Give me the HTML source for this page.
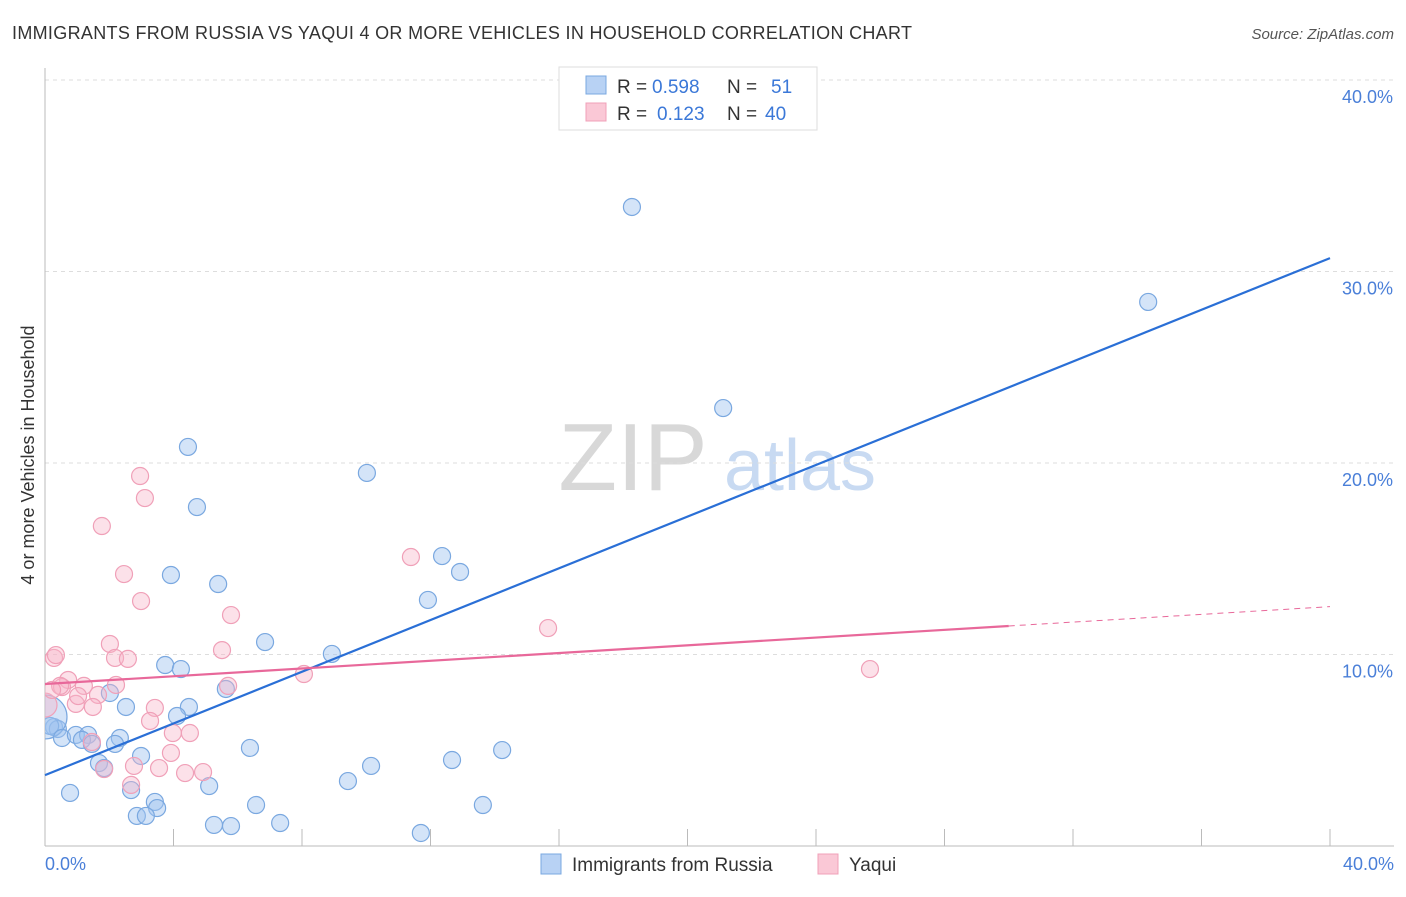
<!DOCTYPE html>
<html><head><meta charset="utf-8"><style>
body{margin:0;background:#fff;font-family:"Liberation Sans",sans-serif;}
svg text{font-family:"Liberation Sans",sans-serif;}
</style></head><body>
<svg id="chart" width="1406" height="892" xmlns="http://www.w3.org/2000/svg">
<defs><clipPath id="plotclip"><rect x="45" y="60" width="1360" height="786"/></clipPath></defs>
<text x="12" y="39" font-size="18" fill="#333" textLength="900">IMMIGRANTS FROM RUSSIA VS YAQUI 4 OR MORE VEHICLES IN HOUSEHOLD CORRELATION CHART</text>
<text x="1394" y="39" font-size="15" fill="#555" font-style="italic" text-anchor="end">Source: ZipAtlas.com</text>
<g>
<text x="633" y="490" font-size="96" fill="#d8d8d8" font-family="Liberation Serif" text-anchor="middle">ZIP</text>
<text x="800" y="490" font-size="72" fill="#c8daf2" text-anchor="middle">atlas</text>
</g>
<g id="grid"></g>
<g id="axes"></g>
<g id="marks" clip-path="url(#plotclip)"></g>
<g id="lines"></g>
<text transform="translate(34,455) rotate(-90)" font-size="18" fill="#333" text-anchor="middle">4 or more Vehicles in Household</text>
<text x="45" y="870" font-size="18" fill="#4a7fd8">0.0%</text>
<text x="1394" y="870" font-size="18" fill="#4a7fd8" text-anchor="end">40.0%</text>
<g>
<rect x="559" y="67" width="258" height="63" fill="#fff" stroke="#ddd"/>
<rect x="586" y="76" width="20" height="18" fill="#b8d2f4" stroke="#7aa8e0"/>
<rect x="586" y="103" width="20" height="18" fill="#fac8d6" stroke="#f0a0b8"/>
<text x="617" y="93" font-size="19" fill="#333">R =</text>
<text x="652" y="93" font-size="19" fill="#3b78d8">0.598</text>
<text x="727" y="93" font-size="19" fill="#333">N =</text>
<text x="771" y="93" font-size="19" fill="#3b78d8">51</text>
<text x="617" y="120" font-size="19" fill="#333">R =</text>
<text x="657" y="120" font-size="19" fill="#3b78d8">0.123</text>
<text x="727" y="120" font-size="19" fill="#333">N =</text>
<text x="765" y="120" font-size="19" fill="#3b78d8">40</text>
</g>
<g>
<rect x="541" y="854" width="20" height="20" fill="#b8d2f4" stroke="#7aa8e0"/>
<text x="572" y="871" font-size="19" fill="#333">Immigrants from Russia</text>
<rect x="818" y="854" width="20" height="20" fill="#fac8d6" stroke="#f0a0b8"/>
<text x="849" y="871" font-size="19" fill="#333">Yaqui</text>
</g>
</svg>
<script>
const yTicks=[10,20,30,40];
const yTickLabels=["10.0%","20.0%","30.0%","40.0%"];
const xTicks=[0,4,8,12,16,20,24,28,32,36,40];
const russiaX=[18.27,34.34,21.11,4.45,10.02,4.73,12.36,12.92,3.92,5.39,11.92,6.85,8.93,3.74,4.23,5.63,2.02,4.48,2.52,4.11,0.28,0.40,0.16,0.0,0.53,0.96,1.34,1.15,2.33,2.18,1.46,2.99,6.38,14.23,12.67,10.15,1.68,1.84,9.43,5.11,0.78,2.68,3.42,3.49,6.57,13.63,2.86,3.14,5.26,5.79,7.32,11.70];
const russiaY=[33.37,28.41,22.87,20.84,19.48,17.70,15.14,14.31,14.15,13.68,12.85,10.65,10.03,9.45,9.24,8.20,7.99,7.26,7.26,6.79,6.21,6.11,6.27,6.74,5.64,5.80,5.80,5.54,5.64,5.33,5.33,4.70,5.12,5.01,4.49,4.18,4.33,4.07,3.39,3.13,2.77,2.92,2.30,1.98,2.14,2.14,1.57,1.57,1.10,1.04,1.20,0.68];
const yaquiX=[2.96,3.11,1.77,2.46,2.99,5.79,11.39,15.66,2.02,5.51,0.28,0.34,2.18,2.58,25.68,8.06,0.72,0.53,1.21,1.65,2.21,5.70,0.96,1.49,3.42,3.27,3.98,4.51,3.92,2.77,3.55,4.36,4.92,1.84,2.68,0.0,0.47,0.22,1.03,1.46];
const yaquiY=[19.32,18.17,16.71,14.20,12.79,12.06,15.09,11.38,10.55,10.23,9.82,9.97,9.82,9.77,9.24,8.98,8.67,8.30,8.36,7.89,8.41,8.36,7.42,7.26,7.21,6.53,5.90,5.90,4.86,4.18,4.07,3.81,3.86,4.02,3.19,7.36,8.36,8.15,7.83,5.43];
const russiaTrend=[3.7,30.7];
const yaquiTrend=[8.46,12.5];
const yaquiSolidEnd=30;

const NS="http://www.w3.org/2000/svg";
const X0=45,X1=1330,Y0=846,PX_PER=19.15;
function sx(v){return X0+(v/40)*(X1-X0);}
function sy(v){return Y0-v*PX_PER;}
function mk(tag,attrs,parent){const e=document.createElementNS(NS,tag);for(const k in attrs)e.setAttribute(k,attrs[k]);parent.appendChild(e);return e;}
const grid=document.getElementById('grid'),axes=document.getElementById('axes'),marks=document.getElementById('marks'),lines=document.getElementById('lines');
yTicks.forEach((t,i)=>{
  const l=mk('line',{x1:X0,x2:1394,y1:sy(t),y2:sy(t),stroke:'#ddd','stroke-dasharray':'4,4'},grid);
  
  
  const tx=mk('text',{x:1393,y:sy(t)+23,'font-size':18,fill:'#4a7fd8','text-anchor':'end'},grid);
  tx.textContent=yTickLabels[i];
  
  
});
const ya=mk('line',{x1:X0,x2:X0,y1:68,y2:Y0,stroke:'#bbb'},axes);


const xa=mk('line',{x1:X0,x2:1394,y1:Y0,y2:Y0,stroke:'#bbb'},axes);


xTicks.forEach(t=>{
  const l=mk('line',{x1:sx(t),x2:sx(t),y1:Y0,y2:Y0-17,stroke:'#bbb'},axes);
  
  
});
russiaX.forEach((x,i)=>{
  const big=(i===23);
  const c=mk('circle',{cx:sx(x),cy:sy(russiaY[i]),r:big?22:8.5,fill:'rgba(160,196,240,0.45)',stroke:'#7aa8e0','stroke-width':1.2},marks);
  
  
});
yaquiX.forEach((x,i)=>{
  const big=(i===35);
  const c=mk('circle',{cx:sx(x),cy:sy(yaquiY[i]),r:big?12:8.5,fill:'rgba(248,180,200,0.4)',stroke:'#f0a0b8','stroke-width':1.2},marks);
  
  
});
const rl=mk('line',{x1:sx(0),y1:sy(russiaTrend[0]),x2:sx(40),y2:sy(russiaTrend[1]),stroke:'#2a6fd6','stroke-width':2.2},lines);


const ym=yaquiTrend[0]+(yaquiTrend[1]-yaquiTrend[0])*yaquiSolidEnd/40;
const yl=mk('line',{x1:sx(0),y1:sy(yaquiTrend[0]),x2:sx(yaquiSolidEnd),y2:sy(ym),stroke:'#e8689a','stroke-width':2.2},lines);


const yd=mk('line',{x1:sx(yaquiSolidEnd),y1:sy(ym),x2:sx(40),y2:sy(yaquiTrend[1]),stroke:'#e8689a','stroke-width':1,'stroke-dasharray':'6,5'},lines);


</script>
</body></html>
